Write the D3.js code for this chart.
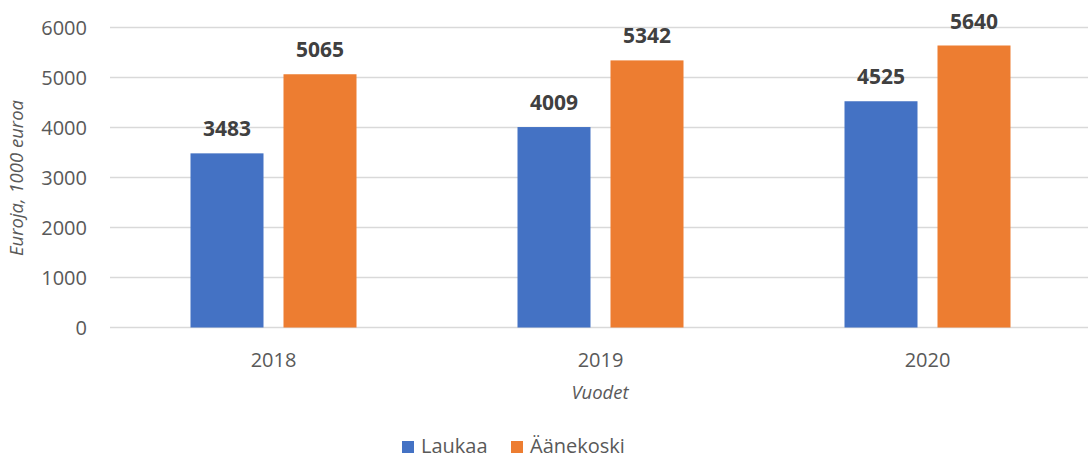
<!DOCTYPE html>
<html>
<head>
<meta charset="utf-8">
<script src="https://cdn.jsdelivr.net/npm/d3@7"></script>
<style>
  body { margin: 0; background: #fff; }
  text { font-family: "Open Sans", sans-serif; }
</style>
</head>
<body>
<div id="chart"></div>
<script>
// data
var years = ["2018", "2019", "2020"];
var series = ["Laukaa", "Äänekoski"];
var laukaa = [3483, 4009, 4525];
var aanekoski = [5065, 5342, 5640];
var yTicks = [0, 1000, 2000, 3000, 4000, 5000, 6000];
var colors = ["#4472C4", "#ED7D31"];

var width = 1088, height = 459;
var values = [laukaa, aanekoski];

var svg = d3.select("#chart")
    .append("svg")
        .attr("width", width)
        .attr("height", height);

// scales
var x = d3.scaleBand()
    .domain(years)
    .range([110, 1091]);

var groupW = 166;
var xs = d3.scaleBand()
    .domain(series)
    .range([0, groupW])
    .paddingInner(20 / 93);

var y = d3.scaleLinear()
    .domain([0, 6000])
    .range([327.5, 27.5]);

// gridlines
svg.append("g")
    .selectAll("line")
    .data(yTicks)
    .enter()
    .append("line")
    .attr("x1", 110)
    .attr("x2", 1091)
    .attr("y1", d => y(d))
    .attr("y2", d => y(d))
    .style("stroke", "#d9d9d9")
    .style("stroke-width", 1.3);

// y tick labels
svg.append("g")
    .selectAll("text")
    .data(yTicks)
    .enter()
    .append("text")
    .attr("x", 87)
    .attr("y", d => y(d))
    .attr("dy", "0.36em")
    .attr("text-anchor", "end")
    .style("font-size", "20px")
    .style("fill", "#595959")
    .text(d => d);

// x tick labels
svg.append("g")
    .selectAll("text")
    .data(years)
    .enter()
    .append("text")
    .attr("x", d => x(d) + x.bandwidth() / 2)
    .attr("y", 367)
    .attr("text-anchor", "middle")
    .style("font-size", "20px")
    .style("fill", "#595959")
    .text(d => d);

// bars
var off = (x.bandwidth() - groupW) / 2;
series.forEach(function(s, i) {
    var g = svg.append("g");
    g.selectAll("rect")
        .data(values[i])
        .enter()
        .append("rect")
        .attr("x", (d, j) => x(years[j]) + off + xs(s))
        .attr("y", d => y(d))
        .attr("width", xs.bandwidth())
        .attr("height", d => y(0) - y(d))
        .style("fill", colors[i]);
    g.selectAll("text")
        .data(values[i])
        .enter()
        .append("text")
        .attr("x", (d, j) => x(years[j]) + off + xs(s) + xs.bandwidth() / 2)
        .attr("y", d => y(d) - 17)
        .attr("text-anchor", "middle")
        .style("font-size", "21px")
        .style("font-weight", "bold")
        .style("fill", "#404040")
        .text(d => d);
});

// axis titles
svg.append("text")
    .attr("transform", "translate(23,178) rotate(-90)")
    .attr("text-anchor", "middle")
    .style("font-size", "18.5px")
    .style("font-style", "italic")
    .style("fill", "#595959")
    .text("Euroja, 1000 euroa");

svg.append("text")
    .attr("x", 600)
    .attr("y", 399)
    .attr("text-anchor", "middle")
    .style("font-size", "18.5px")
    .style("font-style", "italic")
    .style("fill", "#595959")
    .text("Vuodet");

// legend
var legend = svg.append("g");
var legX = [402, 511];
series.forEach(function(s, i) {
    legend.append("rect")
        .attr("x", legX[i])
        .attr("y", 441)
        .attr("width", 12)
        .attr("height", 12)
        .style("fill", colors[i]);
    legend.append("text")
        .attr("x", legX[i] + 19)
        .attr("y", 453)
        .style("font-size", "20px")
        .style("fill", "#595959")
        .text(s);
});
</script>
</body>
</html>
